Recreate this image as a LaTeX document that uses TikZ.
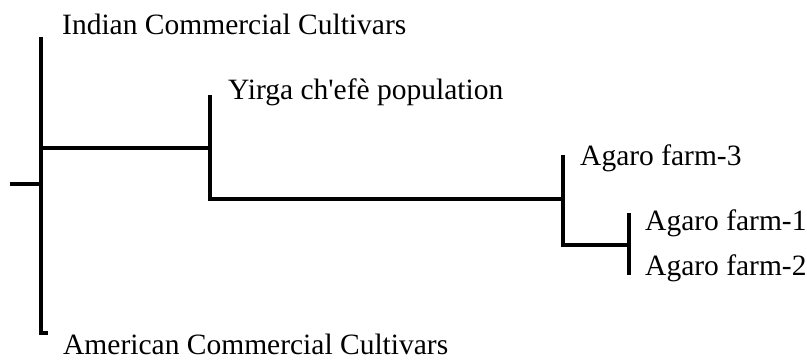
\documentclass[tikz,border=0pt]{standalone}
\usepackage{fontspec}
\setmainfont{Liberation Serif}
\begin{document}
\begin{tikzpicture}[x=1pt,y=-1pt,
  branch/.style={line width=4pt},
  taxon/.style={anchor=base west,inner sep=0pt,font=\fontsize{29.5}{34}\selectfont}]
\useasboundingbox (0,0) rectangle (807,361);
% tips of the branches
\coordinate (root) at (10,184);
\coordinate (indtip) at (41,37);
\coordinate (amtip) at (41,333);
\coordinate (amfoot) at (48,333);
\coordinate (yirtip) at (210,95);
\coordinate (ag3tip) at (563,155);
\coordinate (ag1tip) at (629,213);
\coordinate (ag2tip) at (629,275);
% inner nodes
\coordinate (n0) at (41,184);
\coordinate (n1a) at (41,148);
\coordinate (n1b) at (210,148);
\coordinate (n2a) at (210,199);
\coordinate (n2b) at (563,199);
\coordinate (n3a) at (563,245);
\coordinate (n3b) at (629,245);
% labels
\node[taxon] (ind) at (62,35) {Indian Commercial Cultivars};
\node[taxon] (yir) at (228,100) {Yirga ch\textquotesingle ef\`e population};
\node[taxon] (ag3) at (580,165) {Agaro farm-3};
\node[taxon] (ag1) at (645,230) {Agaro farm-1};
\node[taxon] (ag2) at (645,275) {Agaro farm-2};
\node[taxon] (am) at (63,354) {American Commercial Cultivars};
% tree
\draw[branch] (root) -- (n0);
\draw[branch] (indtip) -- (amtip) -- (amfoot);
\draw[branch] (n1a) -- (n1b);
\draw[branch] (yirtip) -- (n2a) -- (n2b);
\draw[branch] (ag3tip) -- (n3a) -- (n3b);
\draw[branch] (ag1tip) -- (ag2tip);
\end{tikzpicture}
\end{document}
